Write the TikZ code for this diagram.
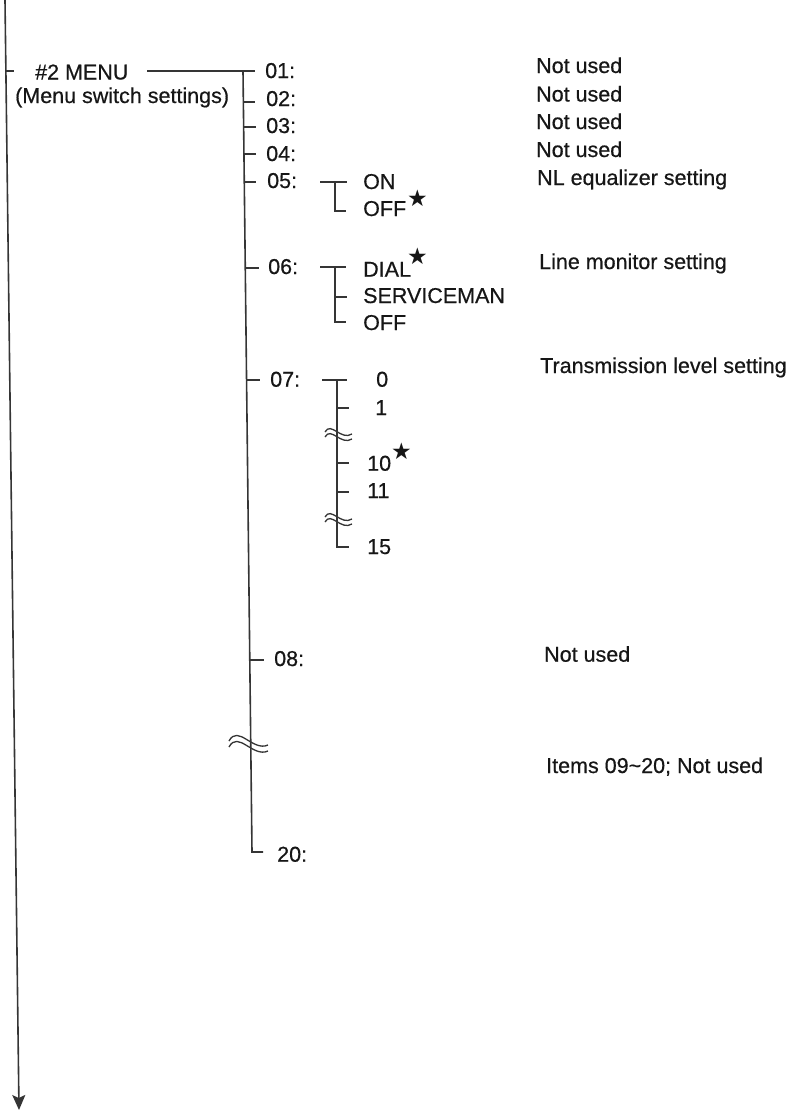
\documentclass[tikz,border=0pt]{standalone}
\usepackage{fontspec}
\setmainfont{Liberation Sans}[FakeBold=0.5]
\newfontfamily\starfont{DejaVu Sans}
\usetikzlibrary{arrows.meta}
\definecolor{txt}{HTML}{161616}
\definecolor{lnc}{HTML}{353535}
\newcommand\mystar[2]{\kern#1pt\raisebox{#2pt}{\starfont\fontsize{23}{23}\selectfont ★}}
\tikzset{
  lbl/.style={anchor=base west, inner sep=0pt, text=txt, font=\fontsize{21.5}{26}\selectfont},
  ln/.style={draw=lnc, line width=1.6pt},
  br/.style={draw=lnc, line width=1.3pt},
  brk/.style={draw=lnc, line width=1.3pt},
}
\begin{document}
\begin{tikzpicture}[x=1pt,y=-1pt]
\useasboundingbox (0,0) rectangle (804,1111);

% left flow line with arrow
\coordinate (L0) at (5,0);
\coordinate (L1) at (19,1110);
\coordinate (Lt0) at (5.9,71);
\coordinate (Lt1) at (14,71);
\draw[ln,-{Stealth[length=15pt,width=13pt,inset=3pt]}] (L0) -- (L1);
\draw[ln] (Lt0) -- (Lt1);

% menu titles
\node[lbl] (menu) at (35,79.5) {\#2 MENU};
\node[lbl] (menusub) at (15,103) {(Menu switch settings)};

% spine coordinates
\coordinate (mstart) at (147,71);
\coordinate (s01) at (243,71);
\coordinate (t01) at (255,71);
\coordinate (s02) at (243.4,102);
\coordinate (t02) at (255.4,102);
\coordinate (s03) at (243.7,127);
\coordinate (t03) at (255.7,127);
\coordinate (s04) at (244,154);
\coordinate (t04) at (256,154);
\coordinate (s05) at (244.3,182);
\coordinate (t05) at (256.3,182);
\coordinate (s06) at (245.3,268);
\coordinate (t06) at (259,268);
\coordinate (s07) at (246.6,380);
\coordinate (t07) at (260,380);
\coordinate (s08) at (249.8,660);
\coordinate (t08) at (264,660);
\coordinate (s20) at (252,852);
\coordinate (t20) at (263,852);

\draw[ln] (mstart) -- (t01);
\draw[ln] (s01) -- (s20) -- (t20);
\foreach \k in {02,03,04,05,06,07,08} \draw[ln] (s\k) -- (t\k);

% big break
\draw[brk] (229,741) .. controls (238,724) and (253,752) .. (268,745);
\draw[brk] (229,747) .. controls (238,730) and (253,758) .. (268,751);

% item labels
\node[lbl] (i01) at (265,78) {01:};
\node[lbl] (i02) at (266,106) {02:};
\node[lbl] (i03) at (266,133) {03:};
\node[lbl] (i04) at (266,161) {04:};
\node[lbl] (i05) at (267,188) {05:};
\node[lbl] (i06) at (268,274) {06:};
\node[lbl] (i07) at (270,386.7) {07:};
\node[lbl] (i08) at (274,666) {08:};
\node[lbl] (i20) at (277,861.7) {20:};

% descriptions
\node[lbl] (d01) at (536,73) {Not used};
\node[lbl] (d02) at (536,101.5) {Not used};
\node[lbl] (d03) at (536,129) {Not used};
\node[lbl] (d04) at (536,157) {Not used};
\node[lbl] (d05) at (537,185) {NL equalizer setting};
\node[lbl] (d06) at (539,269) {Line monitor setting};
\node[lbl] (d07) at (540,373) {Transmission level setting};
\node[lbl] (d08) at (544,661.7) {Not used};
\node[lbl] (d09) at (546,773) {Items 09\textasciitilde20; Not used};

% 05 options
\coordinate (a5) at (320,182);
\coordinate (a5e) at (347,182);
\coordinate (v5) at (335,182);
\coordinate (v5b) at (335,211);
\coordinate (v5be) at (346,211);
\draw[br] (a5) -- (a5e);
\draw[br] (v5) -- (v5b) -- (v5be);
\node[lbl] (on) at (363,189) {ON};
\node[lbl] (off5) at (363,216) {OFF\mystar{1}{10}};

% 06 options
\coordinate (a6) at (320,267);
\coordinate (a6e) at (346,267);
\coordinate (v6) at (335,267);
\coordinate (v6m) at (335,297);
\coordinate (v6me) at (347,297);
\coordinate (v6b) at (335,322);
\coordinate (v6be) at (346,322);
\draw[br] (a6) -- (a6e);
\draw[br] (v6) -- (v6b) -- (v6be);
\draw[br] (v6m) -- (v6me);
\node[lbl] (dial) at (363,276.7) {DIAL\mystar{-4}{12}};
\node[lbl] (svc) at (363,303) {SERVICEMAN};
\node[lbl] (off6) at (363,330) {OFF};

% 07 options
\coordinate (a7) at (322,380);
\coordinate (a7e) at (347,380);
\coordinate (v7) at (337,380);
\coordinate (v7a) at (337,408);
\coordinate (v7ae) at (349,408);
\coordinate (v7b) at (337,463);
\coordinate (v7be) at (349,463);
\coordinate (v7c) at (337,492);
\coordinate (v7ce) at (349,492);
\coordinate (v7d) at (337,547);
\coordinate (v7de) at (349,547);
\draw[br] (a7) -- (a7e);
\draw[br] (v7) -- (v7d) -- (v7de);
\draw[br] (v7a) -- (v7ae);
\draw[br] (v7b) -- (v7be);
\draw[br] (v7c) -- (v7ce);
% small breaks
\draw[brk] (325,432) .. controls (331,421) and (341,441) .. (352,434);
\draw[brk] (325,437) .. controls (331,426) and (341,446) .. (352,439);
\draw[brk] (325,517) .. controls (331,506) and (341,526) .. (352,519);
\draw[brk] (325,522) .. controls (331,511) and (341,531) .. (352,524);

\node[lbl] (v0) at (376,386.7) {0};
\node[lbl] (v1) at (375,415) {1};
\node[lbl] (v10) at (367,470.7) {10\mystar{0}{11}};
\node[lbl] (v11) at (367,498) {11};
\node[lbl] (v15) at (367,554) {15};
\end{tikzpicture}
\end{document}
